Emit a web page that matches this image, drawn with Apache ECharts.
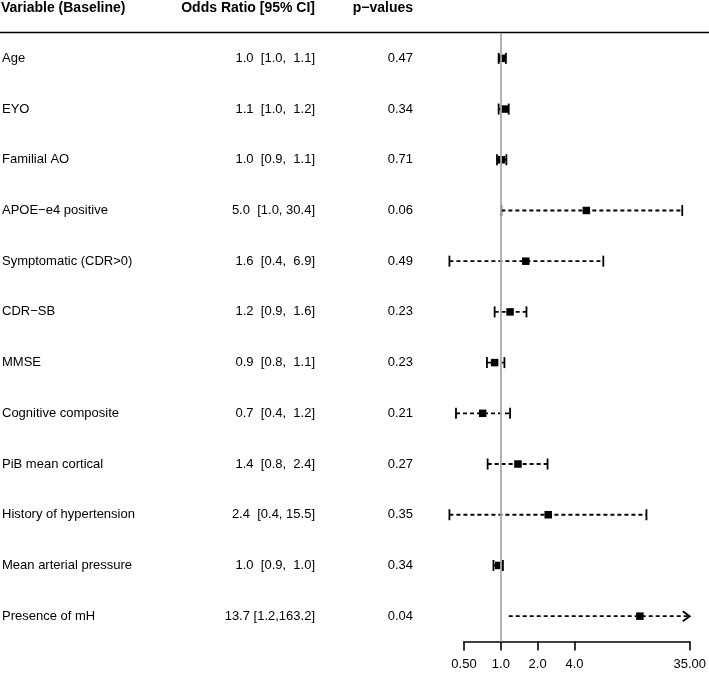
<!DOCTYPE html>
<html>
<head>
<meta charset="utf-8">
<script src="https://cdn.jsdelivr.net/npm/echarts@6/dist/echarts.min.js"></script>
<style>
  html, body { margin: 0; padding: 0; background: #fff; }
  #chart { width: 709px; height: 674px; }
</style>
</head>
<body>
<div id="chart"></div>
<script>
// 变量与数值
const variables = [
  'Age', 'EYO', 'Familial AO', 'APOE\u2212e4 positive', 'Symptomatic (CDR>0)', 'CDR\u2212SB',
  'MMSE', 'Cognitive composite', 'PiB mean cortical', 'History of hypertension',
  'Mean arterial pressure', 'Presence of mH'
]
const oddsRatio = [1.02, 1.07, 1.01, 5.0, 1.6, 1.19, 0.89, 0.71, 1.38, 2.44, 0.96, 13.7]
const ciLower = [0.96, 0.96, 0.93, 1.01, 0.38, 0.89, 0.77, 0.43, 0.78, 0.38, 0.87, 1.16]
const ciUpper = [1.1, 1.16, 1.11, 30.4, 6.88, 1.62, 1.07, 1.19, 2.41, 15.5, 1.04, 163.2]
const pValues = ['0.47', '0.34', '0.71', '0.06', '0.49', '0.23', '0.23', '0.21', '0.27', '0.35', '0.34', '0.04']

const xTickValues = [0.5, 1, 2, 4, 35]
const xTickLabels = ['0.50', '1.0', '2.0', '4.0', '35.00']
const xMin = 0.5
const xMax = 35

const FONT = '"Liberation Sans", Arial, Helvetica, sans-serif'

const orText = (i) =>
  oddsRatio[i].toFixed(1).padEnd(4) + ' [' + ciLower[i].toFixed(1) + ',' + ciUpper[i].toFixed(1).padStart(5) + ']'

const rows = variables.map((v, i) => [oddsRatio[i], ciLower[i], ciUpper[i], i])

const chart = echarts.init(document.getElementById('chart'))

const headFont = 'bold 14px ' + FONT

const option = {
  animation: false,
  backgroundColor: '#fff',
  grid: { left: 464, width: 228, top: 33, height: 608.5 },
  xAxis: {
    type: 'log',
    min: xMin,
    max: xMax,
    axisLine: { show: true, onZero: false, lineStyle: { color: '#000', width: 1.6 } },
    axisTick: { show: true, inside: false, length: 9, lineStyle: { color: '#000', width: 1.6 }, customValues: xTickValues },
    axisLabel: {
      customValues: xTickValues,
      margin: 16,
      color: '#000',
      fontSize: 13,
      fontFamily: FONT,
      formatter: (v) => {
        const k = xTickValues.findIndex((t) => Math.abs(t - v) < 1e-6)
        return k >= 0 ? xTickLabels[k] : ''
      }
    },
    splitLine: { show: false }
  },
  yAxis: {
    type: 'value',
    min: -0.5,
    max: variables.length - 0.5,
    inverse: true,
    show: false,
    splitLine: { show: false }
  },
  graphic: [
    { type: 'line', shape: { x1: 0, y1: 32.5, x2: 709, y2: 32.5 }, style: { stroke: '#000', lineWidth: 1.6 } },
    { type: 'text', style: { x: 1, y: 8, text: 'Variable (Baseline)', font: headFont, fill: '#000', align: 'left', verticalAlign: 'middle' } },
    { type: 'text', style: { x: 315, y: 8, text: 'Odds Ratio [95% CI]', font: headFont, fill: '#000', align: 'right', verticalAlign: 'middle' } },
    { type: 'text', style: { x: 413, y: 8, text: 'p\u2212values', font: headFont, fill: '#000', align: 'right', verticalAlign: 'middle' } }
  ],
  series: [
    {
      // 置信区间、方框
      type: 'custom',
      clip: false,
      data: rows,
      encode: { x: 0, y: 3 },
      renderItem: (params, api) => {
        const or = api.value(0)
        const lo = api.value(1)
        const hi = api.value(2)
        const row = api.value(3)
        const clipped = hi > xMax
        const pLo = api.coord([lo, row])
        const pHi = api.coord([Math.min(hi, xMax), row])
        const pc = api.coord([or, row])
        const y = pc[1]
        const children = [
          {
            type: 'line',
            shape: { x1: pLo[0], y1: y, x2: pHi[0], y2: y },
            style: { stroke: '#000', lineWidth: 1.8, lineDash: [4, 3] }
          }
        ]
        if (!clipped) {
          children.push(
            { type: 'line', shape: { x1: pLo[0], y1: y - 5.5, x2: pLo[0], y2: y + 5.5 }, style: { stroke: '#000', lineWidth: 1.8 } },
            { type: 'line', shape: { x1: pHi[0], y1: y - 5.5, x2: pHi[0], y2: y + 5.5 }, style: { stroke: '#000', lineWidth: 1.8 } }
          )
        } else {
          children.push({
            type: 'polyline',
            shape: { points: [[pHi[0] - 7, y - 5], [pHi[0], y], [pHi[0] - 7, y + 5]] },
            style: { stroke: '#000', lineWidth: 1.8, fill: null }
          })
        }
        children.push({
          type: 'rect',
          shape: { x: pc[0] - 3.75, y: y - 3.75, width: 7.5, height: 7.5 },
          style: { fill: '#000' }
        })
        return { type: 'group', children }
      },
      markLine: {
        silent: true,
        symbol: 'none',
        label: { show: false },
        lineStyle: { color: '#aaaaaa', width: 1.8, type: 'solid' },
        data: [{ xAxis: 1 }]
      },
      z: 3
    },
    {
      // 文本列
      type: 'custom',
      clip: false,
      data: rows,
      encode: { x: 0, y: 3 },
      renderItem: (params, api) => {
        const i = params.dataIndex
        const y = api.coord([1, api.value(3)])[1]
        const font = '13px ' + FONT
        return {
          type: 'group',
          children: [
            { type: 'text', style: { x: 2, y: y, text: variables[i], font, fill: '#000', align: 'left', verticalAlign: 'middle' } },
            { type: 'text', style: { x: 315, y: y, text: orText(i), font, fill: '#000', align: 'right', verticalAlign: 'middle' } },
            { type: 'text', style: { x: 413, y: y, text: pValues[i], font, fill: '#000', align: 'right', verticalAlign: 'middle' } }
          ]
        }
      }
    }
  ]
}

chart.setOption(option)
</script>
</body>
</html>
